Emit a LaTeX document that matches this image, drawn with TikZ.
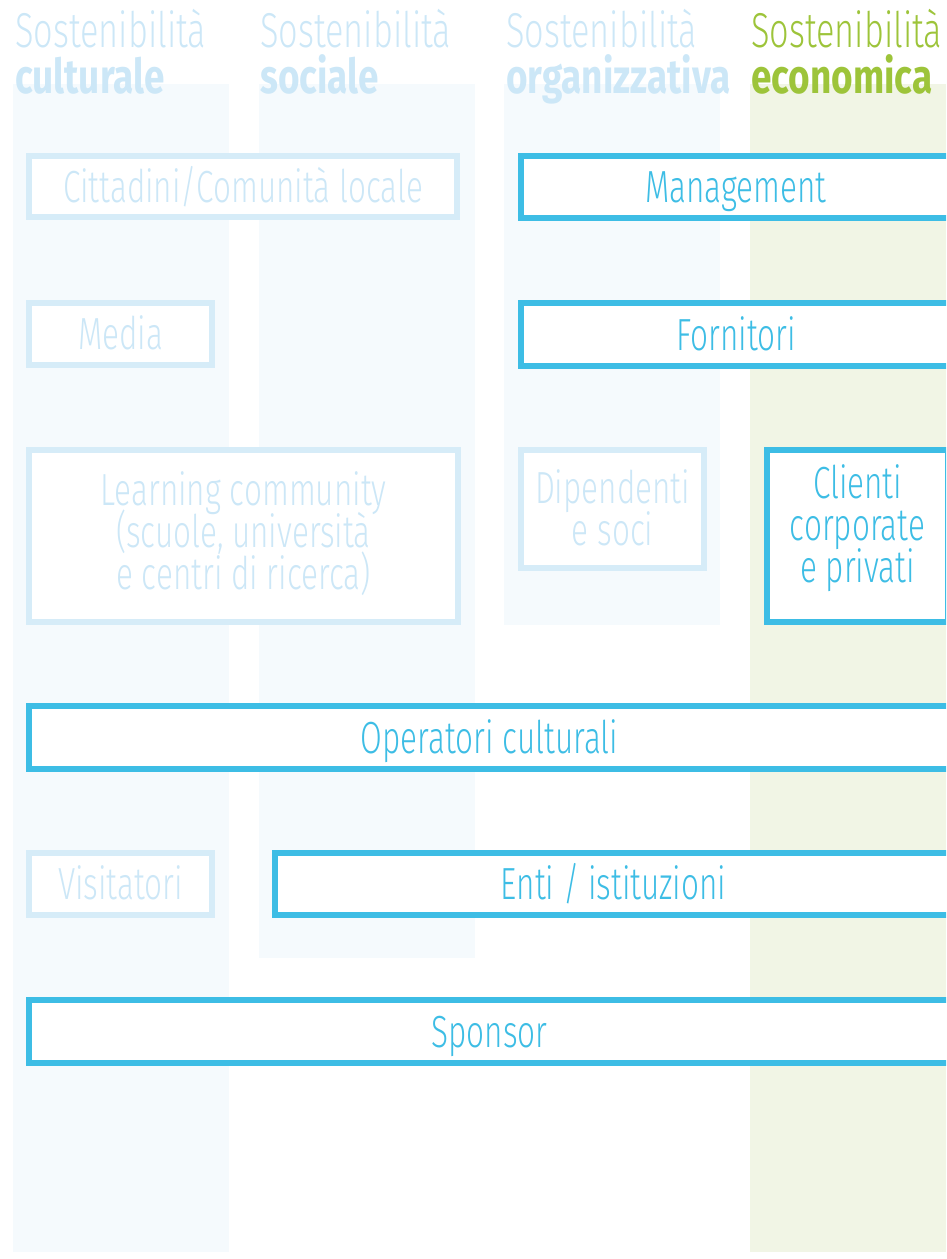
\documentclass[tikz,border=0pt]{standalone}
\usepackage{fontspec}
\usepackage{xcolor}
\setmainfont{Fira Sans Light}[FakeStretch=0.70]
\newfontfamily\grassetto{Fira Sans Bold}[FakeStretch=0.77]

\definecolor{azzurro}{HTML}{3DBDE5}
\definecolor{azzurrochiaro}{HTML}{D6ECF8}
\definecolor{testochiaro}{HTML}{CCE7F7}
\definecolor{fondoblu}{HTML}{F5FAFD}
\definecolor{verde}{HTML}{9DC43A}
\definecolor{fondoverde}{HTML}{F1F5E5}

% interlinea fissa e puntelli per centrare i testi su piu righe
\setlength{\lineskiplimit}{-100pt}
\newcommand{\su}[1]{\rule{0pt}{#1pt}}
\newcommand{\giu}[1]{\rule[-#1pt]{0pt}{0pt}}

\begin{document}
\begin{tikzpicture}[x=1pt, y=-1pt,
	attivo/.style={draw=azzurro, line width=6pt, fill=white, text=azzurro, inner sep=0pt, align=center, font=\fontsize{45}{42}\selectfont},
	spento/.style={attivo, draw=azzurrochiaro, text=testochiaro},
	riga/.style={text height=31pt, text depth=0pt},
	titolo/.style={anchor=base west, inner sep=0pt, font=\fontsize{49}{49}\selectfont},
	titolob/.style={anchor=base west, inner sep=0pt, font=\fontsize{48}{48}\grassetto}]
	\useasboundingbox (0,0) rectangle (946,1259);
	\clip (0,0) rectangle (946,1259);
	
	% colonne di sfondo
	\fill[fondoblu] (13,84) rectangle (229,1252);
	\fill[fondoblu] (259,84) rectangle (475,958);
	\fill[fondoblu] (504,84) rectangle (720,625);
	\fill[fondoverde] (750,84) rectangle (946,1252);
	
	% intestazioni
	\node[titolo, text=testochiaro] (t1) at (15,47) {Sostenibilità};
	\node[titolob, text=testochiaro] (c1) at (15,93) {culturale};
	\node[titolo, text=testochiaro] (t2) at (260,47) {Sostenibilità};
	\node[titolob, text=testochiaro] (c2) at (260,93) {sociale};
	\node[titolo, text=testochiaro] (t3) at (506,47) {Sostenibilità};
	\node[titolob, text=testochiaro] (c3) at (506,93) {organizzativa};
	\node[titolo, text=verde] (t4) at (751,47) {Sostenibilità};
	\node[titolob, text=verde] (c4) at (751,93) {economica};
	
	% prima fila
	\node[spento, riga, minimum width=428pt, minimum height=61pt] (citt) at (243,186.5) {Cittadini/Comunità locale};
	\node[attivo, riga, minimum width=430pt, minimum height=62pt] (manag) at (736,187) {Management};
	
	% seconda fila
	\node[spento, riga, minimum width=183pt, minimum height=62pt] (media) at (120.5,334) {Media};
	\node[attivo, riga, minimum width=430pt, minimum height=63pt] (forn) at (736,334.5) {Fornitori};
	
	% terza fila
	\node[spento, minimum width=429pt, minimum height=172pt] (learn) at (243.5,536) {\su{45}Learning community\\(scuole, università\\e centri di ricerca)\giu{23}};
	\node[spento, minimum width=183pt, minimum height=118pt] (dip) at (612.5,509) {\su{50}Dipendenti\\e soci\giu{20}};
	\node[attivo, minimum width=181pt, minimum height=172pt] (clienti) at (857.5,536) {\su{40}Clienti\\corporate\\e privati\giu{32}};
	
	% righe lunghe
	\node[attivo, riga, minimum width=921pt, minimum height=63pt] (oper) at (489.5,737.5) {Operatori culturali};
	\node[spento, riga, minimum width=183pt, minimum height=62pt] (visit) at (120.5,884) {Visitatori};
	\node[attivo, riga, minimum width=677pt, minimum height=62pt] (enti) at (613.5,884) {Enti / istituzioni};
	\node[attivo, riga, minimum width=921pt, minimum height=63pt] (spons) at (489.5,1031.5) {Sponsor};
\end{tikzpicture}
\end{document}
